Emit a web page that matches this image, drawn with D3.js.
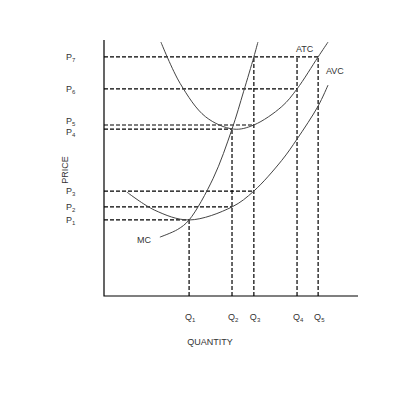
<!DOCTYPE html><html><head><script src="https://d3js.org/d3.v7.min.js"></script>
<style>body{margin:0;background:#fff}</style></head><body><script>
const qLabels=["1","2","3","4","5"], qVals=[3.35,5.04,5.9,7.6,8.43];
const pLabels=["1","2","3","4","5","6","7"], pVals=[2.97,3.48,4.1,6.52,6.68,8.09,9.34];
const mc=[[2.2,2.3],[2.9,2.6],[3.35,2.97],[4.3,4.6],[5.04,6.52],[5.5,8.0],[5.9,9.34],[6.06,9.92]];
const atc=[[2.24,9.92],[3.0,8.3],[4.0,7.0],[5.1,6.52],[5.9,6.68],[7.0,7.4],[7.6,8.09],[8.43,9.34],[8.82,9.92]];
const avc=[[0.9,4.06],[2.0,3.35],[3.35,2.97],[5.04,3.48],[5.9,4.1],[7.0,5.3],[7.6,6.13],[8.43,7.42],[8.82,8.24]];
const hEnds=[3.35,5.04,5.9,5.04,5.9,7.6,8.43];
const vTops=[2.97,6.52,9.34,9.34,9.34];
const svg=d3.select("body").append("svg").attr("width",400).attr("height",400);
const x=d3.scaleLinear([0,10],[104,358]), y=d3.scaleLinear([0,10],[296,40]);
svg.append("path").attr("d",`M${x(0)},${y(10)}V${y(0)}H${x(10)}`).attr("fill","none").attr("stroke","#000").attr("stroke-width",1.2);
const dash={"stroke":"#000","stroke-width":1.2,"stroke-dasharray":"4,2"};
pVals.forEach((p,i)=>{const l=svg.append("line").attr("x1",x(0)).attr("x2",x(hEnds[i])).attr("y1",y(p)).attr("y2",y(p));for(const k in dash)l.attr(k,dash[k]);});
qVals.forEach((q,i)=>{const l=svg.append("line").attr("x1",x(q)).attr("x2",x(q)).attr("y1",y(0)).attr("y2",y(vTops[i]));for(const k in dash)l.attr(k,dash[k]);});
const line=d3.line().x(d=>x(d[0])).y(d=>y(d[1])).curve(d3.curveCatmullRom);
[mc,atc,avc].forEach(c=>svg.append("path").attr("d",line(c)).attr("fill","none").attr("stroke","#444").attr("stroke-width",1));
const f="Liberation Sans, Arial";
function lab(tx,ty,m,s,anchor){const t=svg.append("text").attr("x",tx).attr("y",ty).attr("font-family",f).attr("font-size",9).attr("fill","#333").attr("text-anchor",anchor||"start");t.append("tspan").text(m);if(s)t.append("tspan").attr("font-size",6).attr("dy",2).text(s);}
const pOff=[3,3,3,6,-1,3,3];
pVals.forEach((p,i)=>lab(66,y(p)+pOff[i],"P",pLabels[i]));
qVals.forEach((q,i)=>lab(x(q)-4,y(0)+24,"Q",qLabels[i]));
lab(296,52,"ATC");lab(326,74,"AVC");lab(137,243,"MC");
svg.append("text").attr("transform","translate(68,170) rotate(-90)").attr("text-anchor","middle").attr("font-family",f).attr("font-size",9).attr("fill","#333").text("PRICE");
svg.append("text").attr("x",210).attr("y",345).attr("text-anchor","middle").attr("font-family",f).attr("font-size",9).attr("fill","#333").text("QUANTITY");
</script></body></html>
